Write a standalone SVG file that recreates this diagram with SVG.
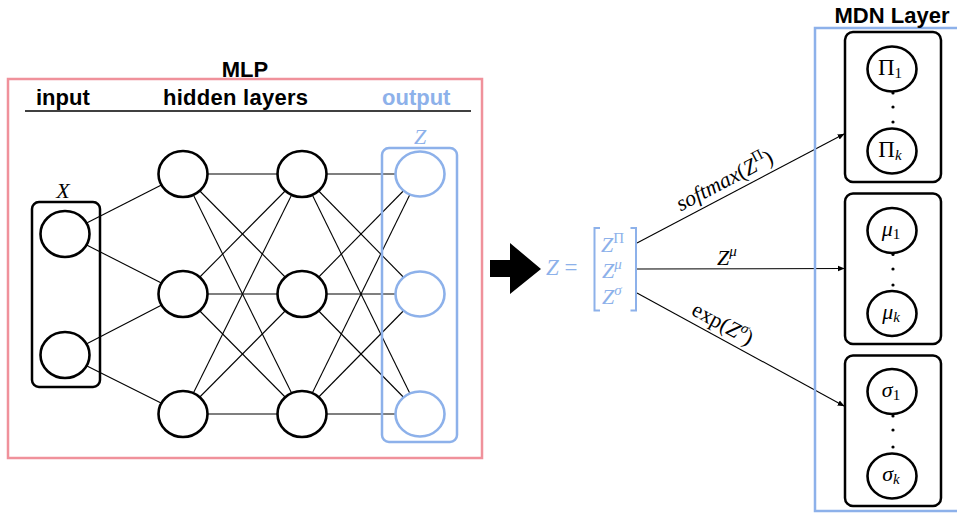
<svg xmlns="http://www.w3.org/2000/svg" width="957" height="513" viewBox="0 0 957 513">
<defs>
<marker id="ah" viewBox="0 0 10 10" refX="9" refY="5" markerWidth="7" markerHeight="7" markerUnits="userSpaceOnUse" orient="auto">
<path d="M0,1 L10,5 L0,9 Z" fill="#000"/>
</marker>
<style>
.hdr{font-family:"Liberation Sans",Arial,sans-serif;font-weight:bold;font-size:22px;fill:#000}
.math{font-family:"Liberation Serif","Times New Roman",serif;font-size:22px}
.it{font-style:italic}
.sup{font-size:15px}
.node{fill:#fff;stroke:#000;stroke-width:2.6}
.onode{fill:#fff;stroke:#8db1ea;stroke-width:2.6}
.edge{stroke:#000;stroke-width:1.1;fill:none}
.arr{stroke:#000;stroke-width:1.1;fill:none;marker-end:url(#ah)}
.box{fill:none;stroke:#000;stroke-width:2.5}
.bbox{fill:none;stroke:#8db1ea;stroke-width:2.5}
.blue{fill:#8db1ea}
</style>
</defs>
<rect width="957" height="513" fill="#fff"/>

<!-- MLP frame -->
<g id="mlp-frame">
<rect x="8" y="79" width="474" height="379" fill="none" stroke="#f0919b" stroke-width="2.5"/>
<text class="hdr" x="245" y="77" text-anchor="middle">MLP</text>
<text class="hdr" x="36" y="105">input</text>
<text class="hdr" x="163" y="105" textLength="145">hidden layers</text>
<text class="hdr" x="382" y="105" style="fill:#8db1ea">output</text>
<line x1="25" y1="111" x2="471" y2="111" stroke="#000" stroke-width="1.5"/>
</g>

<!-- connectors -->
<g id="connectors">
<line class="edge" x1="65" y1="234" x2="183" y2="174"/>
<line class="edge" x1="65" y1="234" x2="183" y2="294"/>
<line class="edge" x1="65" y1="355" x2="183" y2="294"/>
<line class="edge" x1="65" y1="355" x2="183" y2="414"/>

<line class="edge" x1="183" y1="174" x2="302" y2="174"/>
<line class="edge" x1="183" y1="174" x2="302" y2="294"/>
<line class="edge" x1="183" y1="174" x2="302" y2="414"/>
<line class="edge" x1="183" y1="294" x2="302" y2="174"/>
<line class="edge" x1="183" y1="294" x2="302" y2="294"/>
<line class="edge" x1="183" y1="294" x2="302" y2="414"/>
<line class="edge" x1="183" y1="414" x2="302" y2="174"/>
<line class="edge" x1="183" y1="414" x2="302" y2="294"/>
<line class="edge" x1="183" y1="414" x2="302" y2="414"/>

<line class="edge" x1="302" y1="174" x2="420" y2="174"/>
<line class="edge" x1="302" y1="174" x2="420" y2="294"/>
<line class="edge" x1="302" y1="174" x2="420" y2="414"/>
<line class="edge" x1="302" y1="294" x2="420" y2="174"/>
<line class="edge" x1="302" y1="294" x2="420" y2="294"/>
<line class="edge" x1="302" y1="294" x2="420" y2="414"/>
<line class="edge" x1="302" y1="414" x2="420" y2="174"/>
<line class="edge" x1="302" y1="414" x2="420" y2="294"/>
<line class="edge" x1="302" y1="414" x2="420" y2="414"/>

<line class="arr" x1="637" y1="243" x2="844" y2="134"/>
<line class="arr" x1="637" y1="269" x2="844" y2="268.5"/>
<line class="arr" x1="637" y1="293" x2="844" y2="406"/>
</g>

<!-- input layer -->
<g id="input-layer">
<rect class="box" x="32" y="202" width="68" height="185" rx="7"/>
<text class="math it" x="63" y="198" text-anchor="middle">X</text>
<ellipse class="node" cx="65" cy="234" rx="24.5" ry="23"/>
<ellipse class="node" cx="65" cy="355" rx="24.5" ry="23"/>
</g>

<g id="hidden-1">
<ellipse class="node" cx="183" cy="174" rx="24.5" ry="23"/>
<ellipse class="node" cx="183" cy="294" rx="24.5" ry="23"/>
<ellipse class="node" cx="183" cy="414" rx="24.5" ry="23"/>
</g>
<g id="hidden-2">
<ellipse class="node" cx="302" cy="174" rx="24.5" ry="23"/>
<ellipse class="node" cx="302" cy="294" rx="24.5" ry="23"/>
<ellipse class="node" cx="302" cy="414" rx="24.5" ry="23"/>
</g>
<g id="output-layer">
<rect class="bbox" x="382" y="148" width="75" height="294" rx="7"/>
<text class="math it blue" x="420" y="144" text-anchor="middle">Z</text>
<ellipse class="onode" cx="420" cy="174" rx="24.5" ry="22.5"/>
<ellipse class="onode" cx="420" cy="294" rx="24.5" ry="22.5"/>
<ellipse class="onode" cx="420" cy="414" rx="24.5" ry="22.5"/>
</g>

<!-- big arrow -->
<g id="big-arrow">
<polygon points="490,260 510,260 510,243 541,269 510,294 510,277 490,277" fill="#000"/>
</g>

<!-- Z vector -->
<g id="z-vector">
<text class="math blue" x="546" y="275" style="font-size:23px"><tspan class="it">Z</tspan> =</text>
<path d="M600,228 H594.5 V310.5 H600 M630.5,228 H636 V310.5 H630.5" fill="none" stroke="#8db1ea" stroke-width="2"/>
<text class="math blue" x="601" y="252"><tspan class="it">Z</tspan><tspan class="sup" dy="-9">Π</tspan></text>
<text class="math blue" x="602" y="278"><tspan class="it">Z</tspan><tspan class="it sup" dy="-9">μ</tspan></text>
<text class="math blue" x="602" y="304"><tspan class="it">Z</tspan><tspan class="it sup" dy="-9">σ</tspan></text>
</g>

<!-- edge labels -->
<g id="edge-labels">
<text class="math" transform="translate(731,193) rotate(-27.8)" x="0" y="-7" text-anchor="middle"><tspan class="it">softmax</tspan>(<tspan class="it">Z</tspan><tspan class="sup" dy="-9">Π</tspan><tspan dy="9">)</tspan></text>
<text class="math" x="727" y="265" text-anchor="middle"><tspan class="it">Z</tspan><tspan class="it sup" dy="-9">μ</tspan></text>
<text class="math" transform="translate(716,336) rotate(28.6)" x="0" y="-7" text-anchor="middle">exp(<tspan class="it">Z</tspan><tspan class="it sup" dy="-9">σ</tspan><tspan dy="9">)</tspan></text>
</g>

<!-- MDN layer -->
<g id="mdn-layer">
<rect class="bbox" x="815" y="28" width="150" height="483"/>
<text class="hdr" x="892" y="23" text-anchor="middle">MDN Layer</text>
</g>

<g id="mdn-pi">
<rect class="box" x="845" y="32" width="96" height="150" rx="8"/>
<ellipse class="node" cx="892" cy="69" rx="24.5" ry="22.5"/>
<text class="math" x="890" y="75" text-anchor="middle" style="font-size:23px">Π<tspan class="sup" dy="3">1</tspan></text>
<circle cx="893" cy="93" r="1.6"/><circle cx="893" cy="107" r="1.6"/><circle cx="893" cy="122" r="1.6"/>
<ellipse class="node" cx="892" cy="151" rx="24.5" ry="22.5"/>
<text class="math" x="890" y="157" text-anchor="middle" style="font-size:23px">Π<tspan class="it sup" dy="3">k</tspan></text>
</g>

<g id="mdn-mu">
<rect class="box" x="845" y="193.5" width="96" height="150.5" rx="8"/>
<ellipse class="node" cx="892" cy="230.5" rx="24.5" ry="22.5"/>
<text class="math" x="891" y="236" text-anchor="middle"><tspan class="it">μ</tspan><tspan class="sup" dy="3">1</tspan></text>
<circle cx="893" cy="254.5" r="1.6"/><circle cx="893" cy="269" r="1.6"/><circle cx="893" cy="285" r="1.6"/>
<ellipse class="node" cx="892" cy="313.5" rx="24.5" ry="22.5"/>
<text class="math" x="891" y="319" text-anchor="middle"><tspan class="it">μ</tspan><tspan class="it sup" dy="3">k</tspan></text>
</g>

<g id="mdn-sigma">
<rect class="box" x="845" y="355.5" width="96" height="150.5" rx="8"/>
<ellipse class="node" cx="892" cy="391.5" rx="24.5" ry="22.5"/>
<text class="math" x="891" y="397" text-anchor="middle"><tspan class="it">σ</tspan><tspan class="sup" dy="3">1</tspan></text>
<circle cx="893" cy="416" r="1.6"/><circle cx="893" cy="430" r="1.6"/><circle cx="893" cy="447" r="1.6"/>
<ellipse class="node" cx="892" cy="476" rx="24.5" ry="22.5"/>
<text class="math" x="891" y="481" text-anchor="middle"><tspan class="it">σ</tspan><tspan class="it sup" dy="3">k</tspan></text>
</g>
</svg>
